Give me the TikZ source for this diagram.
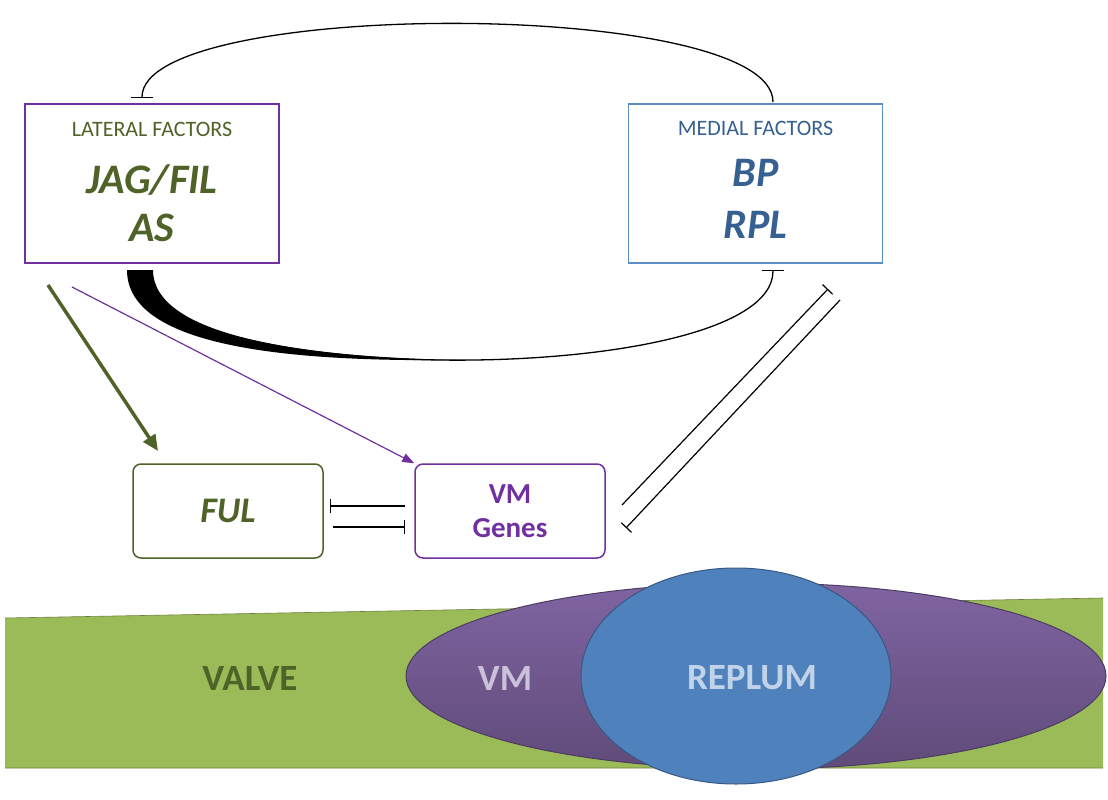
\documentclass[tikz,border=0pt]{standalone}
\usepackage{fontspec}
\setmainfont{Carlito}
\usetikzlibrary{arrows.meta,shapes.geometric}
\definecolor{lgreen}{HTML}{4F6228}
\definecolor{vgreen}{HTML}{9BBB59}
\definecolor{purp}{HTML}{7030A0}
\definecolor{mblue}{HTML}{5B8CC4}
\definecolor{tblue}{HTML}{376092}
\definecolor{vmpurp}{HTML}{8064A2}
\definecolor{repblue}{HTML}{4F81BD}
\begin{document}
\begin{tikzpicture}[x=1pt,y=-1pt,
  box/.style={draw,line width=1.5pt,minimum width=254pt,minimum height=159pt,inner sep=0},
  sbox/.style={draw,line width=1.5pt,rounded corners=8pt,minimum width=190pt,minimum height=94pt,inner sep=0},
  inh/.style={line width=1.2pt,-{Bar[width=14pt]}}]
\useasboundingbox (0,0) rectangle (1108,800);
% band
\fill[vgreen] (5,618) -- (1103,598) -- (1103,768) -- (5,768) -- cycle;
\draw[vgreen!70!black,line width=0.6pt] (5,618) -- (1103,598) (5,768)--(1103,768);
\node[ellipse,minimum width=700pt,minimum height=186pt,draw=vmpurp!60!black,line width=1pt,
  top color=vmpurp,bottom color=vmpurp!75!black] (vme) at (756,676) {};
\node[ellipse,minimum width=310pt,minimum height=216pt,fill=repblue,draw=repblue!70!black,line width=1pt] (rep) at (736,676) {};
\node[text=lgreen,font=\bfseries\fontsize{37}{40}\selectfont] (valve) at (250,678) {VALVE};
\node[text=vmpurp!40!white,font=\bfseries\fontsize{37}{40}\selectfont] (vmt) at (505,678) {VM};
\node[text=repblue!35!white,font=\bfseries\fontsize{37}{40}\selectfont] (rept) at (752,678) {REPLUM};
% boxes
\node[box,draw=purp] (lat) at (152,183.5) {};
\node[text=lgreen,font=\fontsize{22}{24}\selectfont] (latt) at (152,129) {LATERAL FACTORS};
\node[text=lgreen,font=\bfseries\itshape\fontsize{42}{44}\selectfont] (jag) at (152,180) {JAG/FIL};
\node[text=lgreen,font=\bfseries\itshape\fontsize{42}{44}\selectfont] (as) at (152,228) {AS};
\node[box,draw=mblue] (med) at (755.5,183.5) {};
\node[text=tblue,font=\fontsize{22}{24}\selectfont] (medt) at (755.5,128) {MEDIAL FACTORS};
\node[text=tblue,font=\bfseries\itshape\fontsize{42}{44}\selectfont] (bp) at (755.5,173) {BP};
\node[text=tblue,font=\bfseries\itshape\fontsize{42}{44}\selectfont] (rpl) at (755.5,225) {RPL};
\node[sbox,draw=lgreen] (ful) at (228,511) {};
\node[text=lgreen,font=\bfseries\itshape\fontsize{36}{38}\selectfont] (fult) at (228,511) {FUL};
\node[sbox,draw=purp] (vmg) at (510,511) {};
\node[text=purp,font=\bfseries\fontsize{29}{34}\selectfont,align=center] (vmgt) at (510,511) {VM\\Genes};
% top arc
\coordinate (a1) at (773,102); \coordinate (a2) at (142,98);
\draw[line width=1.3pt,-{Bar[width=22pt]}] (a1) .. controls (773,-2) and (142,-2) .. (a2);
% bottom arc
\coordinate (b2) at (773,270);
\draw[line width=1.3pt,-{Bar[width=22pt]}] (140,270) .. controls (140,390) and (773,390) .. (b2);
\fill (127,270) .. controls (127,345) and (280,362) .. (456,360)
  .. controls (300,357) and (153,335) .. (153,270) -- cycle;
% arrows
\draw[lgreen,line width=3.5pt,-{Triangle[length=16pt,width=14pt]}] (48,285) -- (158,451);
\draw[purp,line width=1.2pt,-{Triangle[length=12pt,width=9pt]}] (72,287) -- (vmg.north west);
\coordinate (f1) at (330,506); \coordinate (f2) at (405,527);
\draw[inh] (405,506) -- (f1);
\draw[inh] (333,527) -- (f2);
\coordinate (d1) at (828,289); \coordinate (d2) at (626,528);
\draw[inh] (622,505) -- (d1);
\draw[inh] (840,300) -- (d2);
\end{tikzpicture}
\end{document}
